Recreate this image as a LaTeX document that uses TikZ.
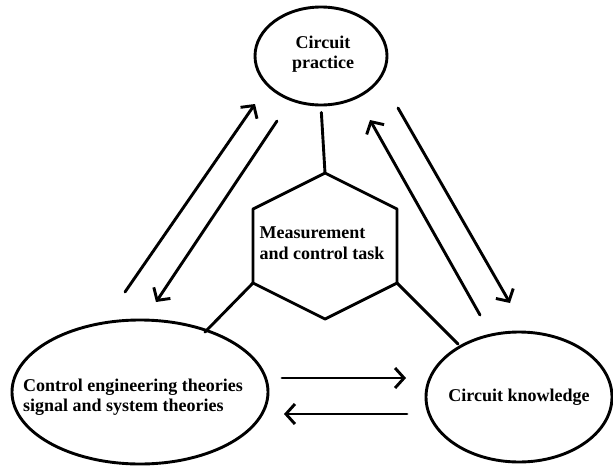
\documentclass[tikz,border=0pt]{standalone}
\usepackage{fontspec}
\setmainfont{Liberation Serif}
\usetikzlibrary{shapes.geometric,arrows.meta}
\begin{document}
\begin{tikzpicture}[x=1pt,y=-1pt,
  every path/.style={line width=2.9pt,line cap=round,line join=round},
  blob/.style={draw,ellipse,inner sep=0pt,line width=2.9pt},
  lbl/.style={font=\bfseries\fontsize{18}{20.5}\selectfont,inner sep=0pt},
  arr/.style={-{Straight Barb[length=9pt,width=20pt,line width=2.9pt]}},
]
\useasboundingbox (0,0) rectangle (613,466);
% ellipses
\node[blob,minimum width=132pt,minimum height=98pt] (cp) at (321,56) {};
\node[lbl,align=center] (cpt) at (323,54) {Circuit\\practice};
\node[blob,minimum width=256pt,minimum height=144pt] (ct) at (140,392) {};
\node[lbl,align=left] (ctt) at (133,397) {Control engineering theories\\signal and system theories};
\node[blob,minimum width=186pt,minimum height=130pt] (ck) at (519,397) {};
\node[lbl] (ckt) at (519,397) {Circuit knowledge};
% hexagon
\coordinate (h1) at (325,173);
\coordinate (h2) at (397,209);
\coordinate (h3) at (397,283);
\coordinate (h4) at (325,319);
\coordinate (h5) at (253,283);
\coordinate (h6) at (253,209);
\draw (h1) -- (h2) -- (h3) -- (h4) -- (h5) -- (h6) -- cycle;
\node[lbl,align=left] (mt) at (322,243) {Measurement\\and control task};
% connecting lines
\draw[shorten <=6pt] (cp.south) -- (h1);
\coordinate (lc) at (205,332);
\coordinate (rc) at (458,344);
\draw (h5) -- (lc);
\draw (h3) -- (rc);
% left diagonal arrows
\coordinate (la1) at (125,292);
\coordinate (la2) at (255,104);
\coordinate (lb1) at (277,121);
\coordinate (lb2) at (156,302);
\draw[arr] (la1) -- (la2);
\draw[arr] (lb1) -- (lb2);
% right diagonal arrows
\coordinate (ra1) at (480,315);
\coordinate (ra2) at (370,120);
\coordinate (rb1) at (398,108);
\coordinate (rb2) at (510,303);
\draw[arr] (ra1) -- (ra2);
\draw[arr] (rb1) -- (rb2);
% horizontal arrows
\coordinate (ha1) at (282,378);
\coordinate (ha2) at (406,378);
\coordinate (hb1) at (407,414);
\coordinate (hb2) at (284,414);
\draw[arr] (ha1) -- (ha2);
\draw[arr] (hb1) -- (hb2);
\end{tikzpicture}
\end{document}
